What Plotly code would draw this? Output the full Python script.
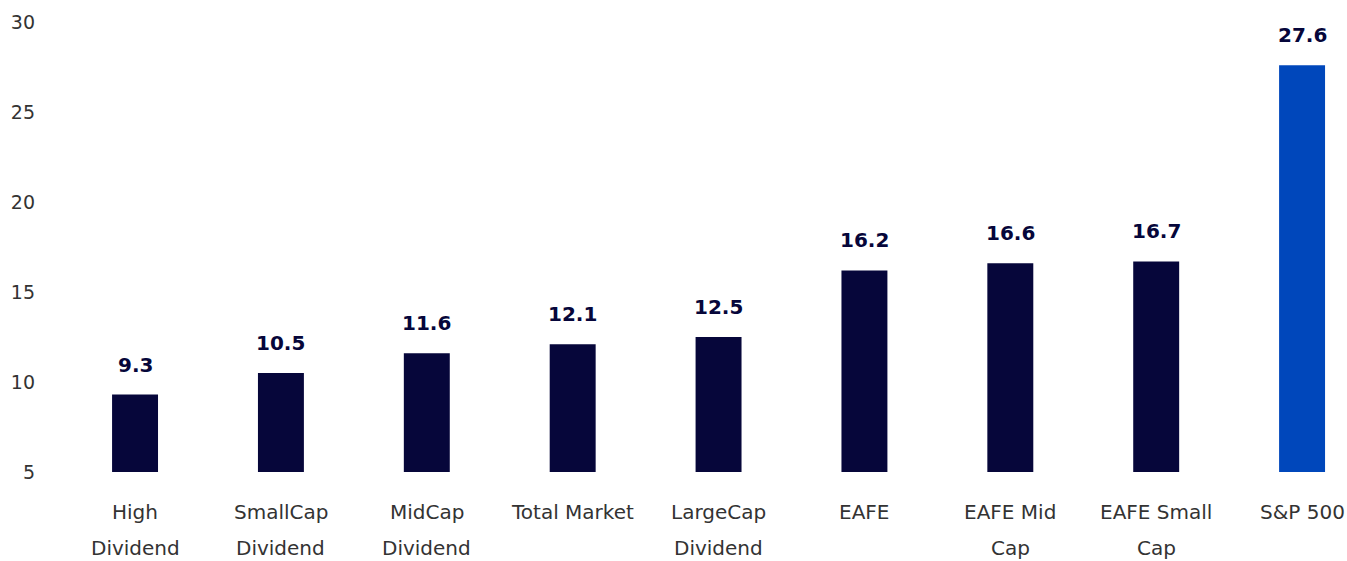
import plotly.graph_objects as go

categories = ["High Dividend", "SmallCap Dividend", "MidCap Dividend", "Total Market",
              "LargeCap Dividend", "EAFE", "EAFE Mid Cap", "EAFE Small Cap", "S&P 500"]
label_line1 = ["High", "SmallCap", "MidCap", "Total Market", "LargeCap", "EAFE", "EAFE Mid", "EAFE Small", "S&P 500"]
label_line2 = ["Dividend", "Dividend", "Dividend", "", "Dividend", "", "Cap", "Cap", ""]
values = [9.3, 10.5, 11.6, 12.1, 12.5, 16.2, 16.6, 16.7, 27.6]
y_ticks = [5, 10, 15, 20, 25, 30]

NAVY = "#06063a"
BLUE = "#0047bb"
colors = [NAVY] * 8 + [BLUE]
FONT = "DejaVu Sans"

fig = go.Figure(go.Bar(
    x=categories, y=values, base=0, marker=dict(color=colors, line=dict(width=0)),
    width=0.315, hoverinfo="skip",
))

annotations = []
for c, v in zip(categories, values):
    annotations.append(dict(x=c, y=v, xref="x", yref="y", text=f"<b>{v}</b>", showarrow=False,
                            yanchor="bottom", yshift=16,
                            font=dict(family=FONT, size=20, color=NAVY)))
for c, l1, l2 in zip(categories, label_line1, label_line2):
    annotations.append(dict(x=c, y=-0.089, xref="x", yref="paper", text=l1, showarrow=False,
                            yanchor="middle", font=dict(family=FONT, size=20, color="#333333")))
    if l2:
        annotations.append(dict(x=c, y=-0.169, xref="x", yref="paper", text=l2, showarrow=False,
                                yanchor="middle", font=dict(family=FONT, size=20, color="#333333")))

fig.update_layout(
    width=1347, height=561,
    margin=dict(l=50, r=0, t=22, b=89),
    paper_bgcolor="white", plot_bgcolor="white",
    showlegend=False,
    annotations=annotations,
    xaxis=dict(range=[-0.583, 8.308], showticklabels=False, showgrid=False, zeroline=False,
               showline=False, ticks=""),
    yaxis=dict(range=[5, 30], tickvals=y_ticks, showgrid=False, zeroline=False, showline=False,
               ticks="", ticklabelstandoff=14,
               tickfont=dict(family=FONT, size=19, color="#333333")),
)

fig.write_html("out.html")
